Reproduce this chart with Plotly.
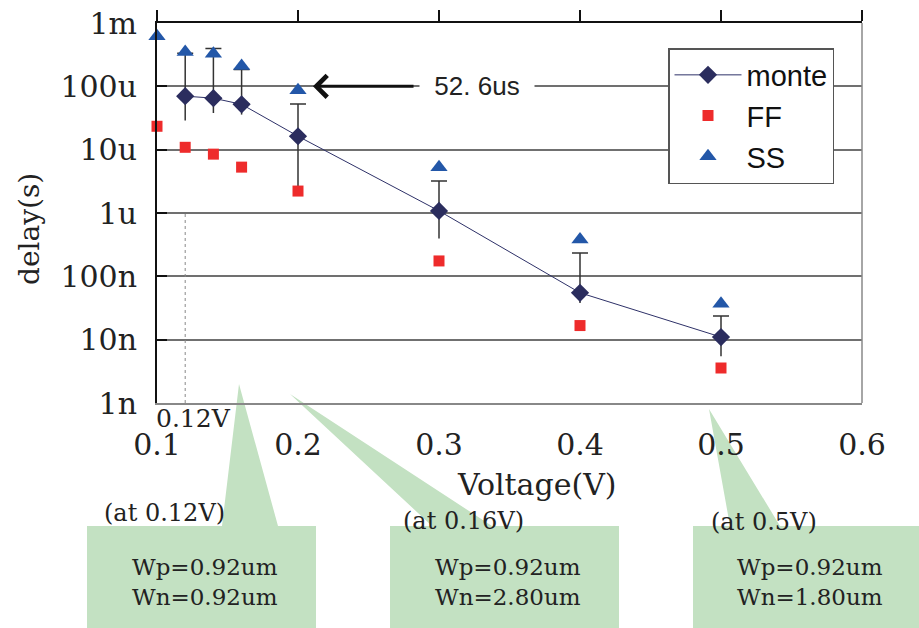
import plotly.graph_objects as go

# ---------------- data ----------------
voltage = [0.12, 0.14, 0.16, 0.2, 0.3, 0.4, 0.5]
monte = [70e-6, 65e-6, 52e-6, 16.3e-6, 1.08e-6, 55e-9, 11e-9]
monte_upper = [332e-6, 394e-6, 184e-6, 52.6e-6, 3.2e-6, 233e-9, 23.6e-9]
monte_lower = [29e-6, 37.9e-6, 35.8e-6, 2.28e-6, 394e-9, 37.9e-9, 5.46e-9]

corner_voltage = [0.1, 0.12, 0.14, 0.16, 0.2, 0.3, 0.4, 0.5]
ff = [23.4e-6, 10.9e-6, 8.5e-6, 5.3e-6, 2.22e-6, 175e-9, 16.7e-9, 3.57e-9]
ss = [615e-6, 348e-6, 328e-6, 210e-6, 86.5e-6, 5.3e-6, 380e-9, 37e-9]

x_ticks = [0.1, 0.2, 0.3, 0.4, 0.5, 0.6]
x_ticktext = ["0.1", "0.2", "0.3", "0.4", "0.5", "0.6"]
y_ticks = [1e-9, 1e-8, 1e-7, 1e-6, 1e-5, 1e-4, 1e-3]
y_ticktext = ["1n", "10n", "100n", "1u", "10u", "100u", "1m"]

marker_line_v = [0.12, 0.12]
marker_line_y = [1e-9, 1e-6]

callouts = [
    ("(at 0.12V)", "Wp=0.92um<br>Wn=0.92um"),
    ("(at 0.16V)", "Wp=0.92um<br>Wn=2.80um"),
    ("(at 0.5V)", "Wp=0.92um<br>Wn=1.80um"),
]

# ---------------- layout helpers (pixel -> paper) ----------------
W, H = 919, 628
L, R, T, B = 157, 862, 23, 403


def px(x):
    return (x - L) / (R - L)


def py(y):
    return (B - y) / (B - T)


SERIF = "DejaVu Serif"
SANS = "Liberation Sans"
GREEN = "#c3e1c2"

fig = go.Figure()

# dotted guide at 0.12V
fig.add_trace(go.Scatter(x=marker_line_v, y=marker_line_y, mode="lines",
                         line=dict(color="#888", width=1, dash="dot"),
                         showlegend=False, hoverinfo="skip"))

# error bars: upper (with cap) and lower (no cap)
plus = [u - m for u, m in zip(monte_upper, monte)]
minus = [m - l for m, l in zip(monte, monte_lower)]
fig.add_trace(go.Scatter(x=voltage, y=monte, mode="markers",
                         marker=dict(size=1, opacity=0),
                         error_y=dict(type="data", array=plus, arrayminus=[0] * len(plus),
                                      color="#333", thickness=1.5, width=8),
                         showlegend=False, hoverinfo="skip", cliponaxis=False))
fig.add_trace(go.Scatter(x=voltage, y=monte, mode="markers",
                         marker=dict(size=1, opacity=0),
                         error_y=dict(type="data", array=[0] * len(minus), arrayminus=minus,
                                      color="#333", thickness=1.5, width=0),
                         showlegend=False, hoverinfo="skip", cliponaxis=False))

fig.add_trace(go.Scatter(x=voltage, y=monte, mode="lines+markers", name="monte",
                         line=dict(color="#2e3168", width=1),
                         marker=dict(symbol="diamond", size=14, color="#2b2d5e"),
                         cliponaxis=False))
fig.add_trace(go.Scatter(x=corner_voltage, y=ff, mode="markers", name="FF",
                         marker=dict(symbol="square", size=11, color="#ee2b2b"),
                         cliponaxis=False))
fig.add_trace(go.Scatter(x=corner_voltage, y=ss, mode="markers", name="SS",
                         marker=dict(symbol="triangle-up", size=15, color="#2357a8"),
                         cliponaxis=False))

# invisible trace for top axis
fig.add_trace(go.Scatter(x=[0.1], y=[1e-6], xaxis="x2", mode="markers",
                         marker=dict(opacity=0), showlegend=False, hoverinfo="skip"))

shapes = []
# green callout boxes with wedges
boxes = [(87, 316, (222, 278), (239, 384)),
         (390, 619, (432, 492), (290, 394)),
         (693, 925, (730, 780), (709, 409))]
for x0, x1, (b0, b1), (ax_, ay_) in boxes:
    path = (f"M {px(x0)},{py(526)} L {px(b0)},{py(526)} L {px(ax_)},{py(ay_)} "
            f"L {px(b1)},{py(526)} L {px(x1)},{py(526)} L {px(x1)},{py(640)} "
            f"L {px(x0)},{py(640)} Z")
    shapes.append(dict(type="path", xref="paper", yref="paper", path=path,
                       fillcolor=GREEN, line=dict(width=0), layer="below"))
# right border
shapes.append(dict(type="line", xref="paper", yref="paper", x0=1, x1=1, y0=0, y1=1,
                   line=dict(color="#888", width=1.5)))


def note(text, x, y, size, family=SERIF, **kw):
    d = dict(text=text, xref="paper", yref="paper", x=px(x), y=py(y),
             xanchor="center", yanchor="middle", showarrow=False,
             font=dict(family=family, size=size, color="#222"))
    d.update(kw)
    return d


annotations = []
annotations.append(note("Voltage(V)", 537, 484, 30))
annotations.append(note("delay(s)", 29, 229, 28, textangle=-90))
annotations.append(note("0.12V", 193, 418, 25))
# arrow to 52.6us
annotations.append(dict(x=0.2106, y=-4, ax=0.283, ay=-4, xref="x", yref="y",
                        axref="x", ayref="y", text="", showarrow=True,
                        arrowhead=4, arrowsize=1.4, arrowwidth=3, arrowcolor="#111"))
annotations.append(note("52. 6us", 477, 86, 26, family=SANS, bgcolor="white",
                        width=112, height=34))
# callout texts
label_pos = [(164, 513), (463, 521), (764, 522)]
body_pos = [(205, 582), (508, 582), (810, 582)]
for (lab, body), (lx, ly), (bx, by) in zip(callouts, label_pos, body_pos):
    annotations.append(note(lab, lx, ly, 24))
    annotations.append(note(body, bx, by, 23, align="left"))

fig.update_layout(
    width=W, height=H,
    margin=dict(l=L, r=W - R, t=T, b=H - B, pad=0),
    paper_bgcolor="white", plot_bgcolor="rgba(0,0,0,0)",
    xaxis=dict(range=[0.1, 0.6], tickvals=x_ticks, ticktext=x_ticktext,
               showgrid=False, zeroline=False, showline=True, linecolor="#888",
               linewidth=1.5, ticks="", ticklabelstandoff=14, automargin=False,
               tickfont=dict(family=SERIF, size=30, color="#222")),
    xaxis2=dict(range=[0.1, 0.6], overlaying="x", side="top", anchor="y",
                tickvals=x_ticks, showticklabels=False, showgrid=False, zeroline=False,
                showline=True, linecolor="#111", linewidth=2, automargin=False,
                ticks="outside", ticklen=11, tickwidth=1.5, tickcolor="#111"),
    yaxis=dict(type="log", range=[-9, -3], tickvals=y_ticks, ticktext=y_ticktext,
               showgrid=True, gridcolor="#707070", gridwidth=1.5,
               showline=True, linecolor="#111", linewidth=2, automargin=False,
               ticks="inside", ticklen=10, tickwidth=2, tickcolor="#111",
               ticklabelstandoff=12,
               tickfont=dict(family=SERIF, size=30, color="#222")),
    legend=dict(x=px(668), y=py(48), xanchor="left", yanchor="top",
                bgcolor="white", bordercolor="#555", borderwidth=1.5,
                font=dict(family=SANS, size=29, color="#111"),
                itemwidth=67, traceorder="normal"),
    shapes=shapes, annotations=annotations,
)

fig.write_html("out.html")
